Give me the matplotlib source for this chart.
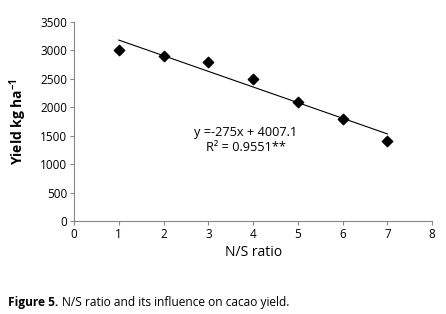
import matplotlib
matplotlib.use("Agg")
import matplotlib.pyplot as plt
import numpy as np

plt.rcParams['font.family'] = ['Open Sans', 'DejaVu Sans']
plt.rcParams['mathtext.fontset'] = 'custom'
plt.rcParams['mathtext.rm'] = 'Open Sans'
plt.rcParams['mathtext.bf'] = 'Open Sans:bold'

ns_ratio = [1, 2, 3, 4, 5, 6, 7]
yield_kg = [3000, 2900, 2800, 2500, 2100, 1800, 1400]
x_ticks = [0, 1, 2, 3, 4, 5, 6, 7, 8]
y_ticks = [0, 500, 1000, 1500, 2000, 2500, 3000, 3500]

fig = plt.figure(figsize=(4.46, 3.14), dpi=100)
ax = fig.add_axes([0.166, 0.296, 0.803, 0.634])

ax.scatter(ns_ratio, yield_kg, marker='D', s=28, color='black', zorder=3)

# linear trendline
slope, intercept = np.polyfit(ns_ratio, yield_kg, 1)
xs = np.array([min(ns_ratio), max(ns_ratio)])
ax.plot(xs, slope * xs + intercept, color='black', lw=0.8)

ax.text(3.83, 1565, "y =-275x + 4007.1", ha='center', va='center', fontsize=9.2)
ax.text(3.83, 1300, "R\u00b2 = 0.9551**", ha='center', va='center', fontsize=9.2)

ax.set_xlim(0, 8)
ax.set_ylim(0, 3500)
ax.set_xticks(x_ticks)
ax.set_yticks(y_ticks)
ax.tick_params(labelsize=8.5, length=3, width=0.8, color='#888888', pad=2)
for s in ['top', 'right']:
    ax.spines[s].set_visible(False)
for s in ['left', 'bottom']:
    ax.spines[s].set_color('#888888')
    ax.spines[s].set_linewidth(0.8)

ax.set_xlabel("N/S ratio", fontsize=10, labelpad=3)
ax.set_ylabel(r"Yield kg ha$^{\mathbf{-1}}$", fontsize=10, fontweight='bold', labelpad=8)

fig.text(0.018, 0.036, "Figure 5.", fontsize=8.6, fontweight='bold', va='center')
fig.text(0.139, 0.036, "N/S ratio and its influence on cacao yield.", fontsize=8.6, va='center')

fig.savefig("out.png", dpi=100)
